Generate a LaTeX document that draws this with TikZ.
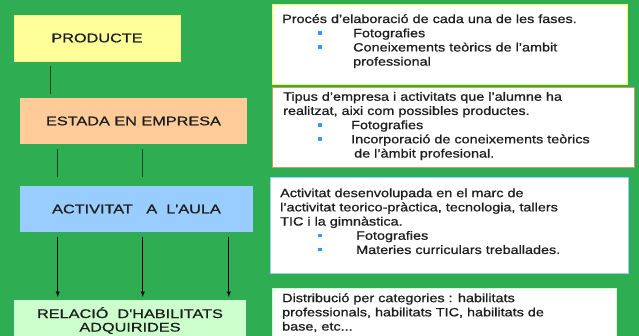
\documentclass[tikz,border=0pt]{standalone}
\usepackage{fontspec}
\setmainfont{Liberation Sans}[FakeStretch=1.2,FakeBold=0.9]
\newfontfamily\stagefont{Liberation Sans}[FakeStretch=1.3,FakeBold=0.9]
\usetikzlibrary{arrows,calc,positioning}
\definecolor{bggreen}{RGB}{46,173,82}
\definecolor{txtgray}{RGB}{30,30,30}
\definecolor{linkgreen}{RGB}{18,70,36}
\definecolor{bulletblue}{RGB}{51,153,255}
\definecolor{prodfill}{RGB}{255,255,153}
\definecolor{estadafill}{RGB}{255,204,153}
\definecolor{aulafill}{RGB}{153,204,255}
\definecolor{relfill}{RGB}{204,255,204}
\definecolor{yellowline}{RGB}{255,255,80}
\definecolor{tanline}{RGB}{200,160,90}
\definecolor{blueline}{RGB}{153,204,255}
\definecolor{greenline}{RGB}{204,255,204}
\newcommand{\bulsq}{\textcolor{bulletblue}{\rule[2.5pt]{3.5pt}{3.5pt}}}
\newcommand{\bitem}[3]{\hspace*{#1}\makebox[#2][l]{\bulsq}#3}
\tikzset{
        stage/.style = {rectangle, inner sep=0pt,
            minimum height=46pt,
            text=txtgray,
            font=\stagefont\fontsize{12.5}{13}\selectfont},
        infobox/.style = {draw, rectangle, fill=white, line width=1.2pt,
            anchor=north west, inner sep=0pt},
        infotext/.style = {anchor=north west, inner sep=0pt, align=left,
            text=txtgray, font=\fontsize{12}{14.2}\selectfont},
        link/.style = {draw, linkgreen, line width=1pt},
        arrow/.style = {draw, -latex, line width=0.9pt},
    }

\begin{document}
\begin{tikzpicture}[x=1pt,y=-1pt]
    \clip (0,0) rectangle (639,336);
    \fill[bggreen] (0,0) rectangle (639,336);

    % left column
    \node[stage, fill=prodfill, draw=prodfill!85!orange, minimum width=166pt] (prod) at (97,38) {PRODUCTE};
    \node[stage, fill=estadafill, minimum width=227pt] (estada) at (133.5,121) {\raisebox{-4pt}{ESTADA EN EMPRESA}};
    \node[stage, fill=aulafill, minimum width=233pt] (aula) at (136.5,209) {ACTIVITAT \ \ A \ L'AULA};
    \node[stage, fill=relfill, minimum width=232pt, minimum height=0pt, inner ysep=7pt,
          align=center, anchor=north, font=\stagefont\fontsize{12.5}{13.5}\selectfont]
          (relacio) at (130,300) {RELACIÓ \ D'HABILITATS\\ADQUIRIDES\\[6pt]};

    \draw[link, shorten <=5pt, shorten >=4pt] ([xshift=37pt]prod.south west) -- ([xshift=37pt]prod.south west |- estada.north);
    \foreach \dx in {38,123}
        \draw[link, shorten <=5pt, shorten >=9pt] ([xshift=\dx pt]estada.south west) -- ([xshift=\dx pt]estada.south west |- aula.north);
    \foreach \dx in {38,123,209}
        \draw[arrow, shorten <=5pt, shorten >=3pt] ([xshift=\dx pt]aula.south west) -- ([xshift=\dx pt]aula.south west |- relacio.north);

    % right column
    \node[infobox, draw=yellowline, minimum width=355pt, minimum height=80pt] (info1) at (272,4) {};
    \node[infobox, draw=tanline, minimum width=362pt, minimum height=80pt] (info2) at (272,87) {};
    \node[infobox, draw=blueline, minimum width=358pt, minimum height=96pt] (info3) at (270,177) {};
    \node[infobox, draw=greenline, minimum width=344pt, minimum height=60pt] (info4) at (272,288) {};

    \node[infotext] (text1) at ($(info1.north west)+(10,8.9)$) {%
        \strut Procés d'elaboració de cada una de les fases.\\
        \bitem{36pt}{35pt}{Fotografies}\\
        \bitem{36pt}{35pt}{Coneixements teòrics de l'ambit}\\
        \hspace*{71pt}professional};
    \node[infotext] (text2) at ($(info2.north west)+(11,3.6)$) {%
        \strut Tipus d'empresa i activitats que l'alumne ha\\
        realitzat, aixi com possibles productes.\\
        \bitem{35pt}{33pt}{Fotografies}\\
        \bitem{35pt}{33pt}{Incorporació de coneixements teòrics}\\
        \hspace*{71pt}de l'àmbit profesional.};
    \node[infotext] (text3) at ($(info3.north west)+(10,10)$) {%
        \strut Activitat desenvolupada en el marc de\\
        l'activitat teorico-pràctica, tecnologia, tallers\\
        TIC i la gimnàstica.\\
        \bitem{38pt}{38pt}{Fotografies}\\
        \bitem{38pt}{38pt}{Materies curriculars treballades.}};
    \node[infotext] (text4) at ($(info4.north west)+(10,4)$) {%
        \strut Distribució per categories : habilitats\\
        professionals, habilitats TIC, habilitats de\\
        base, etc...};
\end{tikzpicture}
\end{document}
